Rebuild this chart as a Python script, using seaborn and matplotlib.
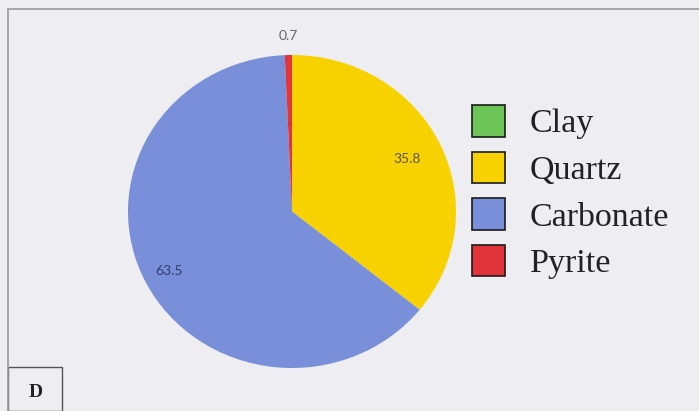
import numpy as np
import matplotlib
matplotlib.use("Agg")
import matplotlib.pyplot as plt
from matplotlib.patches import Patch, Rectangle
from matplotlib.lines import Line2D
import seaborn as sns

# Mineral composition (%)
minerals = ["Clay", "Quartz", "Carbonate", "Pyrite"]
values = [0.0, 35.8, 63.5, 0.7]
colors = ["#6DC557", "#F7D200", "#7A8FD9", "#E0333A"]
label_colors = ["#3a3a3a", "#5c5424", "#2c3f6f", "#666666"]
label_radius = [0.8, 0.78, 0.84, 1.12]
panel_tag = "D"

sns.set_theme(style="white")
plt.rcParams["font.family"] = ["Lato", "DejaVu Sans"]

W, H = 699, 411
bg = "#EDEDF2"
fig = plt.figure(figsize=(W / 100, H / 100), dpi=100, facecolor=bg)

# pie axes placed by pixel bounds (slightly elliptical pie)
x0, x1, y0, y1 = 128, 456, 55, 368
ax = fig.add_axes([x0 / W, 1 - y1 / H, (x1 - x0) / W, (y1 - y0) / H])
ax.set_facecolor("none")
pal = sns.color_palette(colors)
wedges, _ = ax.pie(values, colors=pal, startangle=90, counterclock=False,
                   wedgeprops=dict(linewidth=0))
ax.set_aspect("auto")
ax.set_xlim(-1, 1)
ax.set_ylim(-1, 1)
ax.axis("off")

# value labels at each wedge's mid angle
total = sum(values)
start = 90.0
for v, r, c in zip(values, label_radius, label_colors):
    sweep = 360.0 * v / total
    mid = np.deg2rad(start - sweep / 2)
    start -= sweep
    if v <= 0:
        continue
    ax.text(r * np.cos(mid), r * np.sin(mid), f"{v:g}", ha="center", va="center",
            fontsize=10, color=c, clip_on=False)

# legend
handles = [Patch(facecolor=c, edgecolor="#1a1a1a", linewidth=1.2) for c in colors]
fig.legend(handles, minerals, loc="upper left", bbox_to_anchor=(472 / W, 1 - 105 / H),
           frameon=False, prop=dict(family="Liberation Serif", size=24.5),
           handlelength=0.98, handleheight=1.05, handletextpad=0.72,
           labelspacing=0.36, borderaxespad=0, borderpad=0, labelcolor="#222222")

# outer frame lines (top and left)
fig.add_artist(Line2D([8 / W, 1], [1 - 9 / H, 1 - 9 / H], color="#9a9a9a", lw=1.2))
fig.add_artist(Line2D([8 / W, 8 / W], [1 - 9 / H, 0], color="#9a9a9a", lw=1.2))

# panel tag box
fig.add_artist(Rectangle((8 / W, 0), 54 / W, 44 / H, transform=fig.transFigure,
                         facecolor="none", edgecolor="#555555", lw=1.0))
fig.text(36 / W, 1 - 392 / H, panel_tag, ha="center", va="center",
         fontsize=14, fontweight="bold", family="Liberation Serif", color="#222222")

fig.savefig("out.png", dpi=100, facecolor=bg)
